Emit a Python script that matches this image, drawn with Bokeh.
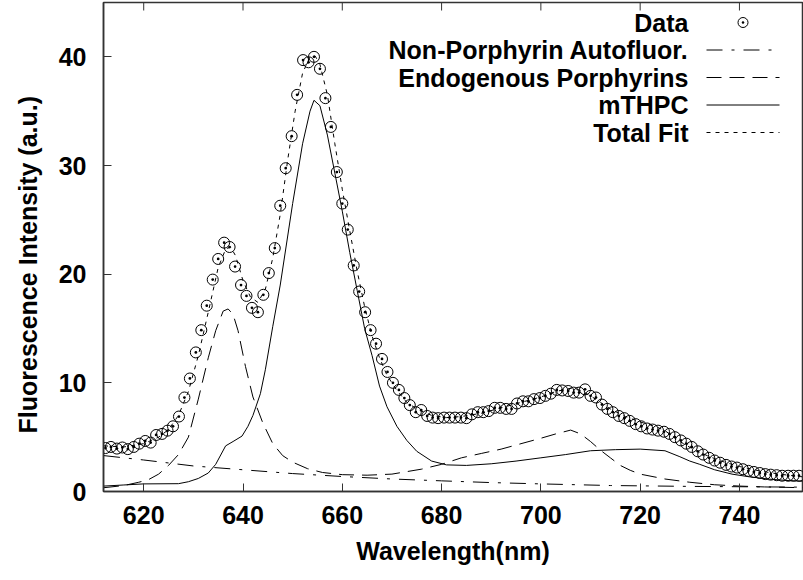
from bokeh.plotting import figure
from bokeh.models import Range1d, FixedTicker, Label, Title
from bokeh.embed import file_html
from bokeh.resources import INLINE

# ---------------- data ----------------
wavelength = [612.3, 613.4, 614.6, 615.7, 616.8, 618.0, 619.1, 620.3, 621.4, 622.5,
              623.7, 624.8, 625.9, 627.1, 628.2, 629.3, 630.5, 631.6, 632.7, 633.9,
              635.0, 636.2, 637.3, 638.4, 639.6, 640.7, 641.8, 643.0, 644.1, 645.2,
              646.4, 647.5, 648.6, 649.8, 650.9, 652.1, 653.2, 654.3, 655.5, 656.6,
              657.7, 658.9, 660.0, 661.1, 662.3, 663.4, 664.6, 665.7, 666.8, 668.0,
              669.1, 670.2, 671.4, 672.5, 673.6, 674.8, 675.9, 677.1, 678.2, 679.3,
              680.5, 681.6, 682.7, 683.9, 685.0, 686.1, 687.3, 688.4, 689.5, 690.7,
              691.8, 693.0, 694.1, 695.2, 696.4, 697.5, 698.6, 699.8, 700.9, 702.0,
              703.2, 704.3, 705.5, 706.6, 707.7, 708.9, 710.0, 711.1, 712.3, 713.4,
              714.5, 715.7, 716.8, 717.9, 719.1, 720.2, 721.4, 722.5, 723.6, 724.8,
              725.9, 727.0, 728.2, 729.3, 730.4, 731.6, 732.7, 733.9, 735.0, 736.1,
              737.3, 738.4, 739.5, 740.7, 741.8, 742.9, 744.1, 745.2, 746.3, 747.5,
              748.6, 749.8, 750.9, 752.0]
intensity = [4.0, 4.1, 3.95, 4.05, 3.9, 4.1, 4.4, 4.65, 4.5, 5.2,
             5.3, 5.6, 6.0, 6.9, 8.65, 10.4, 12.8, 14.85, 17.1, 19.5,
             21.4, 22.9, 22.5, 20.7, 19.0, 18.0, 16.9, 16.5, 18.1, 20.1,
             22.4, 26.3, 29.75, 32.7, 36.5, 39.7, 39.5, 40.0, 38.9, 36.2,
             33.55, 29.4, 26.5, 24.1, 20.8, 18.4, 16.5, 14.85, 13.6, 12.2,
             11.0, 10.0, 9.35, 8.6, 7.95, 7.3, 7.5, 6.95, 6.8, 6.75,
             6.8, 6.8, 6.8, 6.8, 6.75, 7.1, 7.3, 7.3, 7.4, 7.7,
             7.7, 7.6, 7.6, 8.1, 8.3, 8.3, 8.5, 8.6, 8.8, 9.0,
             9.35, 9.3, 9.25, 9.1, 9.1, 9.4, 8.8, 8.65, 8.0, 7.6,
             7.3, 6.95, 6.75, 6.5, 6.2, 6.0, 5.8, 5.7, 5.6, 5.5,
             5.3, 5.0, 4.7, 4.4, 4.1, 3.7, 3.4, 3.1, 2.85, 2.65,
             2.45, 2.3, 2.2, 2.05, 1.9, 1.8, 1.7, 1.6, 1.55, 1.5,
             1.45, 1.45, 1.45, 1.45]

autof_wl = [612, 620, 630, 640, 650, 660, 670, 680, 690, 700, 714, 730, 752.7]
autof = [3.3, 2.9, 2.35, 2.0, 1.65, 1.38, 1.15, 0.98, 0.82, 0.7, 0.55, 0.47, 0.4]

porph_wl = [612, 616, 619, 621, 623, 625, 627, 629, 631, 633, 634.5, 636, 637,
            638, 639, 640.5, 642, 644, 646, 648, 650, 653, 656, 660, 665, 670,
            676, 680, 684, 688, 692, 696, 700, 703, 706, 708, 710, 712, 714, 716,
            718, 720, 725, 730, 735, 740, 745, 752.7]
porph = [0.35, 0.55, 0.85, 1.1, 1.6, 2.4, 3.4, 5.0, 8.5, 12.3, 14.8, 16.6, 16.8,
         16.3, 14.8, 11.5, 8.7, 6.3, 4.4, 3.3, 2.7, 2.1, 1.75, 1.55, 1.5, 1.6,
         2.06, 2.5, 3.1, 3.5, 3.9, 4.4, 4.9, 5.3, 5.65, 5.3, 4.6, 3.8, 3.1, 2.4,
         1.95, 1.6, 1.15, 0.85, 0.62, 0.5, 0.42, 0.35]

mthpc_wl = [612, 616, 620, 627, 629, 631, 633, 634.5, 636.5, 638, 639.8, 641,
            642, 643.5, 644.5, 646, 647.5, 650, 652, 653.5, 654.3, 655.5, 657,
            658.5, 660, 661.5, 663, 664.5, 666, 667.5, 669, 671, 673, 675, 678,
            681, 685, 690, 695, 700, 705, 710, 715, 720, 725, 728, 730, 732, 735,
            738.5, 742, 746, 750, 752.7]
mthpc = [0.5, 0.6, 0.7, 0.72, 0.9, 1.2, 1.7, 2.5, 4.2, 4.6, 5.1, 6.0,
         7.0, 9.0, 11.2, 15.2, 19.0, 26.5, 32.0, 35.0, 36.0, 35.5, 32.8,
         29.3, 25.8, 22.0, 18.5, 15.0, 12.5, 9.7, 7.8, 6.0, 4.7, 3.7, 2.8,
         2.45, 2.4, 2.55, 2.8, 3.1, 3.4, 3.75, 3.85, 3.9, 3.75, 3.2, 2.8, 2.5, 2.0,
         1.6, 1.35, 1.14, 1.0, 0.95]

fit_wl = [612, 616, 620, 623, 625, 627, 629, 631, 633, 635, 636.5, 637.5, 638.5,
          640, 641.5, 643, 644.5, 646, 647.5, 649, 650.5, 652, 653.5, 654.5,
          655.5, 657, 658.5, 660, 661.5, 663, 664.5, 666, 667.5, 669, 671, 673,
          675, 678, 681, 684, 688, 692, 696, 700, 703, 706, 708, 710, 712, 714,
          717, 720, 723, 725, 728, 731, 734, 737, 740, 744, 748, 752.7]
fit = [4.2, 4.1, 4.4, 5.0, 5.7, 7.0, 9.2, 12.5, 16.5, 20.6, 22.3, 22.5, 21.7,
       19.4, 17.9, 17.4, 18.6, 21.5, 25.5, 30.5, 35.0, 38.5, 40.0, 40.1,
       39.3, 36.5, 32.0, 27.8, 24.0, 20.3, 17.0, 14.3, 12.3, 10.7, 9.3, 8.2,
       7.6, 7.0, 6.8, 6.9, 7.2, 7.7, 8.2, 8.7, 9.2, 9.5, 9.3, 8.8, 8.2, 7.6,
       6.9, 6.4, 6.0, 5.6, 4.6, 3.8, 3.2, 2.7, 2.3, 1.9, 1.6, 1.35]

x_ticks = [620, 640, 660, 680, 700, 720, 740]
y_ticks = [0, 10, 20, 30, 40]
legend_labels = ["Data", "Non-Porphyrin Autofluor.", "Endogenous Porphyrins",
                 "mTHPC", "Total Fit"]
x_title = "Wavelength(nm)"
y_title = "Fluorescence Intensity (a.u.)"

# ---------------- layout / styling ----------------
FONT = "Liberation Sans"
FS = "25px"
AX = "#333333"
X0, X1, Y0, Y1 = 611.9, 752.7, 0, 45
W, H = 803, 580
B_LEFT, B_RIGHT, B_TOP, B_BOTTOM = 103, 1, 2, 89
TICK = 8
frame_w = W - B_LEFT - B_RIGHT
frame_h = H - B_TOP - B_BOTTOM
frame_bottom = H - B_BOTTOM


def px_to_x(px):
    return X0 + (px - B_LEFT) * (X1 - X0) / frame_w


def py_to_y(py):
    return Y1 - (py - B_TOP) * (Y1 - Y0) / frame_h


p = figure(width=W, height=H,
           x_range=Range1d(X0, X1), y_range=Range1d(Y0, Y1),
           output_backend="svg", toolbar_location=None,
           min_border_left=B_LEFT, min_border_right=B_RIGHT,
           min_border_top=B_TOP, min_border_bottom=B_BOTTOM)
p.background_fill_color = "white"
p.border_fill_color = "white"
p.outline_line_color = AX
p.outline_line_width = 1.5
p.xgrid.visible = False
p.ygrid.visible = False

for ax in (p.xaxis[0], p.yaxis[0]):
    ax.axis_line_color = AX
    ax.axis_line_width = 1.5
    ax.major_tick_line_color = AX
    ax.major_tick_in = TICK
    ax.major_tick_out = 0
    ax.minor_tick_line_color = None
    ax.major_label_text_font = FONT
    ax.major_label_text_font_style = "bold"
    ax.major_label_text_font_size = FS
    ax.major_label_text_color = "black"
    ax.axis_label_text_font = FONT
    ax.axis_label_text_font_style = "bold"
    ax.axis_label_text_font_size = FS
    ax.axis_label_text_color = "black"

p.xaxis[0].ticker = FixedTicker(ticks=x_ticks)
p.yaxis[0].ticker = FixedTicker(ticks=y_ticks)
p.xaxis[0].axis_label = x_title
p.xaxis[0].major_label_standoff = 14
p.xaxis[0].axis_label_standoff = 10
p.yaxis[0].major_label_standoff = 17

# y title as a side title, starting where the reference's title starts
p.add_layout(Title(text=y_title, align="left", offset=frame_bottom - 433,
                   vertical_align="top", standoff=24,
                   text_font=FONT, text_font_style="bold",
                   text_font_size=FS, text_color="black"), "left")

# mirrored tick marks on the top border
tick_len = TICK * (Y1 - Y0) / frame_h
p.segment(x0=x_ticks, y0=[Y1] * len(x_ticks), x1=x_ticks, y1=[Y1 - tick_len] * len(x_ticks),
          line_color=AX, line_width=1)

# ---------------- curves ----------------
styles = {
    "auto": dict(line_color="black", line_width=1, line_dash="16 9 3 9"),
    "porph": dict(line_color="black", line_width=1, line_dash="15 8"),
    "mthpc": dict(line_color="black", line_width=1),
    "fit": dict(line_color="black", line_width=1, line_dash="4 5"),
}
marker_style = dict(marker="circle_dot", size=11, line_color="black", line_width=1,
                    fill_alpha=0)

p.line(autof_wl, autof, **styles["auto"])
p.line(porph_wl, porph, **styles["porph"])
p.line(mthpc_wl, mthpc, **styles["mthpc"])
p.line(fit_wl, fit, **styles["fit"])
p.scatter(wavelength, intensity, **marker_style)

# ---------------- key (gnuplot style: text right-aligned, sample on its right) ----------------
ROW0 = 22          # canvas y of the first row centre
PITCH = 27.5
KEY_L, KEY_R = 706, 779
TEXT_R = 688
key_styles = [None, styles["auto"], styles["porph"], styles["mthpc"], styles["fit"]]
for i, (txt, st) in enumerate(zip(legend_labels, key_styles)):
    row_py = ROW0 + i * PITCH
    ry = py_to_y(row_py)
    if st is None:
        p.scatter([px_to_x((KEY_L + KEY_R) / 2)], [ry], marker="circle_dot", size=10,
                  line_color="black", line_width=1, fill_alpha=0)
    else:
        p.line([px_to_x(KEY_L), px_to_x(KEY_R)], [ry, ry], **st)
    p.add_layout(Label(x=TEXT_R - B_LEFT, y=frame_bottom - row_py,
                       x_units="screen", y_units="screen", text=txt,
                       text_align="right", text_baseline="middle",
                       text_font=FONT, text_font_style="bold",
                       text_font_size=FS, text_color="black"))

open("out.html", "w").write(file_html(p, INLINE))
